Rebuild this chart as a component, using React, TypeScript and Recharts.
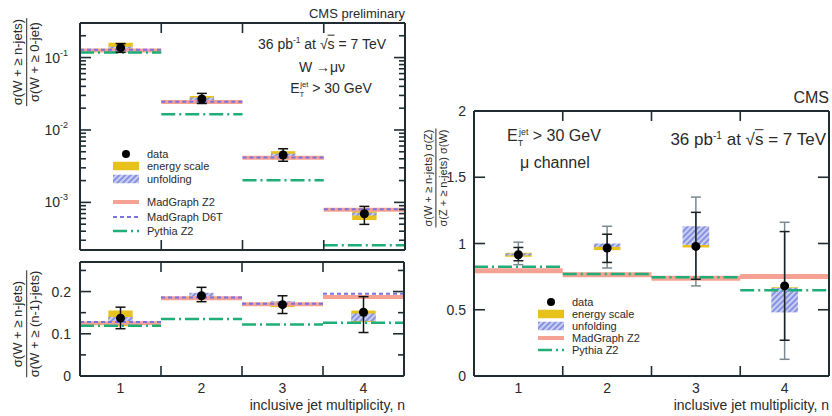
import React from 'react';
import { ComposedChart, Line, Scatter, ErrorBar, XAxis, YAxis, ReferenceArea } from 'recharts';

// ---------- data ----------
const bins = [1, 2, 3, 4];
const xLabelTicks = [1, 2, 3, 4];
const binEdges = [1.5, 2.5, 3.5];

// top-left: sigma(W + >= n jets) / sigma(W + >= 0 jets), log scale
const topValue = [0.137, 0.0268, 0.00452, 0.000698];
const topErrLow = [0.118, 0.0232, 0.0037, 0.000497];
const topErrHigh = [0.156, 0.032, 0.0055, 0.00088];
const topEnergyLow = [0.121, 0.0238, 0.0039, 0.00057];
const topEnergyHigh = [0.16, 0.0295, 0.0051, 0.00082];
const topUnfoldLow = [0.133, 0.0255, 0.0043, 0.00066];
const topUnfoldHigh = [0.141, 0.028, 0.0047, 0.00072];
const topMadGraphZ2 = [0.125, 0.0243, 0.00415, 0.00079];
const topMadGraphD6T = [0.128, 0.0246, 0.00418, 0.000805];
const topPythiaZ2 = [0.117, 0.0165, 0.00202, 0.000255];
const topMajorTicks = [0.001, 0.01, 0.1];
const topMinorTicks = [
  0.0003, 0.0004, 0.0005, 0.0006, 0.0007, 0.0008, 0.0009,
  0.002, 0.003, 0.004, 0.005, 0.006, 0.007, 0.008, 0.009,
  0.02, 0.03, 0.04, 0.05, 0.06, 0.07, 0.08, 0.09, 0.2,
];
const topDomain = [0.00022, 0.3];

// bottom-left: sigma(W + >= n) / sigma(W + >= n-1)
const botValue = [0.137, 0.19, 0.169, 0.151];
const botErrLow = [0.112, 0.176, 0.148, 0.103];
const botErrHigh = [0.163, 0.21, 0.19, 0.188];
const botEnergyLow = [0.118, 0.183, 0.163, 0.128];
const botEnergyHigh = [0.155, 0.192, 0.176, 0.155];
const botUnfoldLow = [0.13, 0.188, 0.167, 0.13];
const botUnfoldHigh = [0.14, 0.197, 0.177, 0.148];
const botMadGraphZ2 = [0.125, 0.184, 0.17, 0.187];
const botMadGraphD6T = [0.128, 0.186, 0.171, 0.195];
const botPythiaZ2 = [0.119, 0.135, 0.122, 0.126];
const botMajorTicks = [0, 0.1, 0.2];
const botMinorTicks = [0.05, 0.15, 0.25];
const botDomain = [0, 0.27];

// right: W/Z ratio
const rValue = [0.915, 0.966, 0.978, 0.68];
const rInnerLow = [0.87, 0.857, 0.73, 0.27];
const rInnerHigh = [0.97, 1.07, 1.235, 1.09];
const rOuterLow = [0.84, 0.815, 0.68, 0.126];
const rOuterHigh = [1.01, 1.13, 1.35, 1.16];
const rEnergyLow = [0.9, 0.95, 0.97, 0.63];
const rEnergyHigh = [0.93, 0.98, 0.99, 0.67];
const rUnfoldLow = [0.91, 0.975, 0.99, 0.48];
const rUnfoldHigh = [0.925, 1.0, 1.13, 0.665];
const rMadGraphZ2 = [0.795, 0.765, 0.738, 0.751];
const rPythiaZ2 = [0.825, 0.77, 0.745, 0.648];
const rMajorTicks = [0, 0.5, 1, 1.5, 2];
const rMinorTicks: number[] = [];
const rDomain = [0, 2];

// ---------- style ----------
const FONT = '"Liberation Sans", Arial, Helvetica, sans-serif';
const FRAME = '#1f2d33';
const TXT = '#2a2a2a';
const C_ENERGY = '#e8c21c';
const C_HATCH_BG = '#c9cff3';
const C_HATCH_LINE = '#6c78d6';
const C_MGZ2 = '#f5a294';
const C_D6T = '#7a72e0';
const C_PY = '#1fae78';
const BOX_HALF = 0.15;
const MAJOR_LEN = 11;
const MINOR_LEN = 6;
const XTICK_LEN = 10;
const TICK_W = 1.6;

type Pt = { x: number; y: number | null };
function steps(vals: number[]): Pt[] {
  const out: Pt[] = [];
  vals.forEach((v, i) => {
    const n = bins[i];
    if (i > 0) out.push({ x: n - 0.5, y: null });
    out.push({ x: n - 0.5, y: v });
    out.push({ x: n + 0.5, y: v });
  });
  return out;
}
function points(vals: number[], lo: number[], hi: number[], lo2?: number[], hi2?: number[]) {
  return vals.map((v, i) => ({
    x: bins[i],
    y: v,
    err: [v - lo[i], hi[i] - v],
    err2: lo2 && hi2 ? [v - lo2[i], hi2[i] - v] : [0, 0],
  }));
}

const isMember = (arr: number[], v: number) => arr.some((a) => Math.abs(a - v) < 1e-12);

// left y tick: label (if major) + inward tick line
const makeLeftTick = (major: number[], log: boolean, labelGap: number) => (props: any) => {
  const { x, y, payload } = props;
  const v = payload.value;
  const isMaj = isMember(major, v);
  const len = isMaj ? MAJOR_LEN : MINOR_LEN;
  let label: any = null;
  if (isMaj) {
    if (log) {
      const exp = Math.round(Math.log10(v));
      label = (
        <text x={x - labelGap} y={y} textAnchor="end" fill={TXT} fontSize={14} fontFamily={FONT} dy={5}>
          <tspan>10</tspan>
          <tspan dy={-7} fontSize={9}>{String(exp)}</tspan>
        </text>
      );
    } else {
      label = (
        <text x={x - labelGap} y={y} textAnchor="end" fill={TXT} fontSize={14} fontFamily={FONT} dy={5}>
          {String(v)}
        </text>
      );
    }
  }
  return (
    <g>
      <line x1={x} y1={y} x2={x + len} y2={y} stroke={FRAME} strokeWidth={TICK_W} />
      {label}
    </g>
  );
};
const makeRightTick = (major: number[]) => (props: any) => {
  const { x, y, payload } = props;
  const len = isMember(major, payload.value) ? MAJOR_LEN : MINOR_LEN;
  return <line x1={x - len} y1={y} x2={x} y2={y} stroke={FRAME} strokeWidth={TICK_W} />;
};
const makeBottomTick = (showLabels: boolean) => (props: any) => {
  const { x, y, payload } = props;
  const v = payload.value;
  if (isMember(binEdges, v)) {
    return <line x1={x} y1={y - XTICK_LEN} x2={x} y2={y} stroke={FRAME} strokeWidth={TICK_W} />;
  }
  if (!showLabels) return <g />;
  return (
    <text x={x} y={y} textAnchor="middle" fill={TXT} fontSize={14} fontFamily={FONT} dy={17}>
      {String(v)}
    </text>
  );
};
const TopTick = (props: any) => {
  const { x, y } = props;
  return <line x1={x} y1={y} x2={x} y2={y + XTICK_LEN} stroke={FRAME} strokeWidth={TICK_W} />;
};

function padDomain(d: number[], log: boolean) {
  if (log) return [d[0] * 0.9999, d[1] * 1.0001];
  const e = (d[1] - d[0]) * 1e-5;
  return [d[0] - e, d[1] + e];
}

function frameAxes(o: {
  scale: 'log' | 'linear';
  domain: number[];
  major: number[];
  minor: number[];
  xLabels: boolean;
  yWidth: number;
  labelGap: number;
}) {
  const axisLine = { stroke: FRAME, strokeWidth: 2 };
  const xCommon = {
    type: 'number' as const,
    dataKey: 'x',
    domain: [0.5 - 1e-5, 4.5 + 1e-5],
    allowDataOverflow: true,
    interval: 0,
    tickLine: false,
    tickSize: 0,
    tickMargin: 0,
    axisLine,
  };
  const yCommon = {
    type: 'number' as const,
    scale: o.scale,
    domain: padDomain(o.domain, o.scale === 'log'),
    allowDataOverflow: true,
    interval: 0,
    tickLine: false,
    tickSize: 0,
    tickMargin: 0,
    axisLine,
    ticks: [...o.major, ...o.minor].sort((a, b) => a - b),
  };
  const LeftTick = makeLeftTick(o.major, o.scale === 'log', o.labelGap);
  const RightTick = makeRightTick(o.major);
  const BottomTick = makeBottomTick(o.xLabels);
  return [
    <XAxis key="xl" xAxisId="xl" {...xCommon} orientation="bottom" height={o.xLabels ? 40 : 1}
      ticks={[...xLabelTicks, ...binEdges].sort((a, b) => a - b)} tick={<BottomTick />} />,
    <XAxis key="xt" xAxisId="xt" {...xCommon} orientation="top" height={1} ticks={binEdges} tick={<TopTick />} />,
    <YAxis key="yl" yAxisId="yl" {...yCommon} orientation="left" width={o.yWidth} tick={<LeftTick />} />,
    <YAxis key="yr" yAxisId="yr" {...yCommon} orientation="right" width={1} tick={<RightTick />} />,
  ];
}

function boxes(lo: number[], hi: number[], fill: string, key: string) {
  return lo.map((l, i) => (
    <ReferenceArea key={key + i} xAxisId="xl" yAxisId="yl" x1={bins[i] - BOX_HALF} x2={bins[i] + BOX_HALF}
      y1={l} y2={hi[i]} fill={fill} fillOpacity={1} stroke="none" ifOverflow="visible" />
  ));
}

function mcLine(vals: number[], color: string, width: number, dash: string | undefined, key: string) {
  return (
    <Line key={key} xAxisId="xl" yAxisId="yl" data={steps(vals)} dataKey="y" stroke={color}
      strokeWidth={width} strokeDasharray={dash} dot={false} activeDot={false} connectNulls={false}
      isAnimationActive={false} />
  );
}

const T = (p: { x: number; y: number; a?: 'l' | 'm' | 'r'; size: number; children: any; style?: any }) => {
  const tx = p.a === 'l' ? '0' : p.a === 'r' ? '-100%' : '-50%';
  return (
    <div style={{
      position: 'absolute', left: p.x, top: p.y, transform: `translate(${tx}, -50%)`,
      fontSize: p.size, fontFamily: FONT, color: TXT, whiteSpace: 'nowrap', lineHeight: 1, ...p.style,
    }}>{p.children}</div>
  );
};

const Frac = (p: { x: number; y: number; num: any; den: any; size: number }) => (
  <div style={{
    position: 'absolute', left: p.x, top: p.y, transform: 'translate(-50%, -50%) rotate(-90deg)',
    fontFamily: FONT, fontSize: p.size, color: TXT, whiteSpace: 'nowrap', lineHeight: 1.1, textAlign: 'center',
  }}>
    <div style={{ borderBottom: `1.5px solid ${TXT}`, padding: '0 1px 1px' }}>{p.num}</div>
    <div style={{ paddingTop: 1 }}>{p.den}</div>
  </div>
);

const Icon = ({ kind }: { kind: string }) => (
  <svg width={26} height={9} style={{ display: 'block' }}>
    {kind === 'data' && <circle cx={13} cy={4.5} r={4} fill="#000" />}
    {kind === 'energy' && <rect x={0} y={0} width={26} height={9} fill={C_ENERGY} />}
    {kind === 'unfold' && <rect x={0} y={0} width={26} height={9} fill="url(#hatchPat)" />}
    {kind === 'mgz2' && <line x1={0} y1={4.5} x2={26} y2={4.5} stroke={C_MGZ2} strokeWidth={4} />}
    {kind === 'd6t' && <line x1={0} y1={4.5} x2={26} y2={4.5} stroke={C_D6T} strokeWidth={2} strokeDasharray="4 3" />}
    {kind === 'py' && <line x1={0} y1={4.5} x2={26} y2={4.5} stroke={C_PY} strokeWidth={2.5} strokeDasharray="14 4 2 4" />}
  </svg>
);

const LegendRows = (p: { x: number; rows: { kind: string; label: string; y: number }[]; size: number }) => (
  <>
    {p.rows.map((r) => (
      <div key={r.label} style={{
        position: 'absolute', left: p.x, top: r.y, transform: 'translateY(-50%)', display: 'flex',
        alignItems: 'center', fontFamily: FONT, fontSize: p.size, color: TXT, whiteSpace: 'nowrap', lineHeight: 1,
      }}>
        <Icon kind={r.kind} />
        <span style={{ marginLeft: 8 }}>{r.label}</span>
      </div>
    ))}
  </>
);

const Sqrt = () => (
  <span>√<span style={{ textDecoration: 'overline' }}>s</span></span>
);
const Lumi = () => (
  <span>36 pb<sup style={{ fontSize: '0.6em' }}>-1</sup> at <Sqrt /> = 7 TeV</span>
);
const Et = () => (
  <span>E<sub style={{ fontSize: '0.55em' }}>T</sub><sup style={{ fontSize: '0.55em', marginLeft: -4 }}>jet</sup> &gt; 30 GeV</span>
);

export default function App() {
  const topPts = points(topValue, topErrLow, topErrHigh);
  const botPts = points(botValue, botErrLow, botErrHigh);
  const rPts = points(rValue, rInnerLow, rInnerHigh, rOuterLow, rOuterHigh);

  return (
    <div style={{ position: 'absolute', left: 0, top: 0, width: 832, height: 416, background: '#fff', overflow: 'hidden' }}>
      <svg width={0} height={0} style={{ position: 'absolute' }}>
        <defs>
          <pattern id="hatchPat" width={4} height={4} patternUnits="userSpaceOnUse" patternTransform="rotate(45)">
            <rect x={0} y={0} width={4} height={4} fill={C_HATCH_BG} />
            <line x1={1} y1={0} x2={1} y2={4} stroke={C_HATCH_LINE} strokeWidth={1.4} />
          </pattern>
        </defs>
      </svg>

      {/* top-left log panel */}
      <div style={{ position: 'absolute', left: 0, top: 0 }}>
        <ComposedChart width={420} height={260} margin={{ top: 22, right: 14, left: 30, bottom: 9 }}>
          {frameAxes({ scale: 'log', domain: topDomain, major: topMajorTicks, minor: topMinorTicks, xLabels: false, yWidth: 50, labelGap: 12 })}
          {boxes(topEnergyLow, topEnergyHigh, C_ENERGY, 'te')}
          {boxes(topUnfoldLow, topUnfoldHigh, 'url(#hatchPat)', 'tu')}
          {mcLine(topMadGraphZ2, C_MGZ2, 4, undefined, 'tmg')}
          {mcLine(topMadGraphD6T, C_D6T, 2, '4 3', 'td6')}
          {mcLine(topPythiaZ2, C_PY, 2.5, '14 4 2 4', 'tpy')}
          <Scatter xAxisId="xl" yAxisId="yl" data={topPts} dataKey="y" fill="#000" isAnimationActive={false}>
            <ErrorBar dataKey="err" direction="y" width={5} stroke="#111" strokeWidth={1.5} />
          </Scatter>
        </ComposedChart>
      </div>

      {/* bottom-left ratio panel */}
      <div style={{ position: 'absolute', left: 0, top: 250 }}>
        <ComposedChart width={420} height={166} margin={{ top: 11, right: 15, left: 30, bottom: 0 }}>
          {frameAxes({ scale: 'linear', domain: botDomain, major: botMajorTicks, minor: botMinorTicks, xLabels: true, yWidth: 50, labelGap: 9 })}
          {boxes(botEnergyLow, botEnergyHigh, C_ENERGY, 'be')}
          {boxes(botUnfoldLow, botUnfoldHigh, 'url(#hatchPat)', 'bu')}
          {mcLine(botMadGraphZ2, C_MGZ2, 4, undefined, 'bmg')}
          {mcLine(botMadGraphD6T, C_D6T, 2, '4 3', 'bd6')}
          {mcLine(botPythiaZ2, C_PY, 2.5, '14 4 2 4', 'bpy')}
          <Scatter xAxisId="xl" yAxisId="yl" data={botPts} dataKey="y" fill="#000" isAnimationActive={false}>
            <ErrorBar dataKey="err" direction="y" width={5} stroke="#111" strokeWidth={1.5} />
          </Scatter>
        </ComposedChart>
      </div>

      {/* right panel */}
      <div style={{ position: 'absolute', left: 420, top: 80 }}>
        <ComposedChart width={412} height={336} margin={{ top: 30, right: 2, left: 0, bottom: 0 }}>
          {frameAxes({ scale: 'linear', domain: rDomain, major: rMajorTicks, minor: rMinorTicks, xLabels: true, yWidth: 54, labelGap: 8 })}
          {boxes(rEnergyLow, rEnergyHigh, C_ENERGY, 're')}
          {boxes(rUnfoldLow, rUnfoldHigh, 'url(#hatchPat)', 'ru')}
          {mcLine(rMadGraphZ2, C_MGZ2, 5, undefined, 'rmg')}
          {mcLine(rPythiaZ2, C_PY, 2.5, '14 4 2 4', 'rpy')}
          <Scatter xAxisId="xl" yAxisId="yl" data={rPts} dataKey="y" fill="#000" isAnimationActive={false}>
            <ErrorBar dataKey="err2" direction="y" width={5} stroke="#7a8a90" strokeWidth={1.5} />
            <ErrorBar dataKey="err" direction="y" width={5} stroke="#1a2226" strokeWidth={1.5} />
          </Scatter>
        </ComposedChart>
      </div>

      {/* text: top-left */}
      <T x={405} y={13} a="r" size={13}>CMS preliminary</T>
      <T x={322} y={43} size={14}><Lumi /></T>
      <T x={322} y={67} size={14}>W →μν</T>
      <T x={331} y={90} size={14}><Et /></T>
      <Frac x={27} y={62} size={13} num="σ(W + ≥ n-jets)" den="σ(W + ≥ 0-jet)" />
      <Frac x={27} y={324} size={13} num="σ(W + ≥ n-jets)" den="σ(W + ≥ (n-1)-jets)" />
      <T x={405} y={405} a="r" size={14}>inclusive jet multiplicity, n</T>
      <LegendRows x={113} size={11} rows={[
        { kind: 'data', label: 'data', y: 154 },
        { kind: 'energy', label: 'energy scale', y: 166 },
        { kind: 'unfold', label: 'unfolding', y: 179 },
        { kind: 'mgz2', label: 'MadGraph Z2', y: 202 },
        { kind: 'd6t', label: 'MadGraph D6T', y: 217 },
        { kind: 'py', label: 'Pythia Z2', y: 231 },
      ]} />

      {/* text: right */}
      <T x={829} y={98} a="r" size={16}>CMS</T>
      <T x={507} y={138} a="l" size={16}><Et /></T>
      <T x={520} y={163} a="l" size={16}>μ channel</T>
      <T x={826} y={139} a="r" size={17}><Lumi /></T>
      <Frac x={436} y={178} size={11} num="σ(W + ≥ n-jets) σ(Z)" den="σ(Z + ≥ n-jets) σ(W)" />
      <T x={829} y={405} a="r" size={14}>inclusive jet multiplicity, n</T>
      <LegendRows x={538} size={11} rows={[
        { kind: 'data', label: 'data', y: 302 },
        { kind: 'energy', label: 'energy scale', y: 314 },
        { kind: 'unfold', label: 'unfolding', y: 326 },
        { kind: 'mgz2', label: 'MadGraph Z2', y: 338 },
        { kind: 'py', label: 'Pythia Z2', y: 350 },
      ]} />
    </div>
  );
}
